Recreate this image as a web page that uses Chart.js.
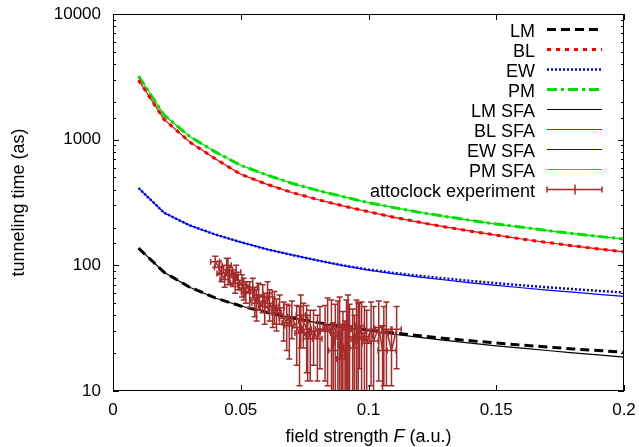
<!DOCTYPE html>
<html>
<head>
<meta charset="utf-8">
<script src="https://cdn.jsdelivr.net/npm/chart.js@4/dist/chart.umd.min.js"></script>
<style>
  html, body { margin: 0; padding: 0; background: #fff; }
  canvas { display: block; }
</style>
</head>
<body>
<canvas id="myChart" width="639" height="447"></canvas>
<script>
// field strength F (a.u.) for the model curves
var fields = [0.01, 0.02, 0.03, 0.04, 0.05, 0.06, 0.07, 0.08, 0.09, 0.10,
              0.11, 0.12, 0.13, 0.14, 0.15, 0.16, 0.17, 0.18, 0.19, 0.20];

// tunneling times (as)
var lmValues    = [137, 88, 67, 55, 47.5, 42.3, 38.3, 35.1, 32.6, 30.6, 28.9, 27.5, 26.2, 25.1, 24.1, 23.2, 22.4, 21.6, 21.0, 20.3];
var blValues    = [2980, 1450, 960, 705, 530, 443, 380, 334, 297, 267, 241, 220, 202, 187, 174, 162, 152, 143, 135, 128];
var ewValues    = [412, 262, 208, 176, 153, 134.5, 121, 109.5, 100, 92.5, 87, 82.5, 78.6, 75.2, 72.1, 69.4, 66.9, 64.7, 62.6, 60.7];
var pmValues    = [3200, 1570, 1060, 800, 625, 525, 450, 395, 352, 315, 288, 264, 245, 228, 213, 201, 189, 179, 170, 162];
var lmSfaValues = [137, 88, 67, 55, 47.5, 42.3, 38.2, 34.9, 32.3, 30.1, 28.3, 26.7, 25.3, 24.0, 22.9, 21.9, 21.0, 20.1, 19.4, 18.6];
var blSfaValues = [2980, 1450, 960, 705, 530, 443, 380, 334, 297, 267, 241, 220, 202, 187, 174, 162, 152, 143, 135, 128];
var ewSfaValues = [412, 262, 208, 176, 153, 134.5, 121, 109.5, 99.4, 91.5, 85.5, 80.7, 76.4, 72.6, 69.3, 66.3, 63.6, 61.1, 58.8, 56.6];
var pmSfaValues = [3200, 1570, 1060, 800, 625, 525, 450, 395, 352, 315, 288, 264, 245, 228, 213, 201, 189, 179, 170, 162];

// attoclock experiment: F, time, and their errors
var attoField    = [0.0400, 0.0415, 0.0425, 0.0437, 0.0445, 0.0450, 0.0457, 0.0470, 0.0478, 0.0482,
                    0.0490, 0.0505, 0.0512, 0.0520, 0.0535, 0.0547, 0.0555, 0.0562, 0.0570, 0.0586,
                    0.0594, 0.0605, 0.0613, 0.0625, 0.0632, 0.0640, 0.0652, 0.0668, 0.0680, 0.0690,
                    0.0700, 0.0719, 0.0730, 0.0735, 0.0745, 0.0758, 0.0762, 0.0772, 0.0785, 0.0800,
                    0.0810, 0.0830, 0.0840, 0.0855, 0.0862, 0.0870, 0.0880, 0.0887, 0.0894, 0.0900,
                    0.0908, 0.0914, 0.0920, 0.0926, 0.0938, 0.0945, 0.0953, 0.0960, 0.0965, 0.0973,
                    0.0984, 0.0993, 0.1010, 0.1020, 0.1040, 0.1055, 0.1060, 0.1070, 0.1090, 0.1110];
var attoTime     = [107, 96, 86, 77, 100, 92, 84, 80, 72, 88,
                    76, 70, 66, 62, 60, 67, 53, 50, 58, 56,
                    47, 60, 50, 44, 48, 42, 46, 38, 35, 33,
                    39, 32, 29, 40, 36, 31, 26, 28, 30, 26,
                    31, 30, 33, 31, 21, 29, 26, 32, 18, 23,
                    19, 31, 33, 27, 25, 22, 31, 26, 33, 29,
                    27, 24, 31, 25, 32, 21, 29, 31, 21, 31];
var attoFieldErr = [0.0018, 0.0018, 0.0018, 0.0018, 0.0018, 0.0018, 0.0018, 0.0018, 0.0018, 0.0018,
                    0.0018, 0.0018, 0.0018, 0.0018, 0.0018, 0.0018, 0.0018, 0.0018, 0.0018, 0.0018,
                    0.0018, 0.0018, 0.0018, 0.0018, 0.0018, 0.0018, 0.0018, 0.0018, 0.0018, 0.0018,
                    0.0018, 0.0018, 0.0018, 0.0018, 0.0018, 0.0018, 0.0018, 0.0018, 0.0018, 0.0018,
                    0.0018, 0.0018, 0.0018, 0.0018, 0.0018, 0.0018, 0.0018, 0.0018, 0.0018, 0.0018,
                    0.0018, 0.0018, 0.0018, 0.0018, 0.0018, 0.0018, 0.0018, 0.0018, 0.0018, 0.0018,
                    0.0018, 0.0018, 0.0018, 0.0018, 0.0018, 0.0018, 0.0018, 0.0018, 0.0018, 0.0018];
var attoTimeErr  = [11, 12, 12, 10, 14, 22, 14, 12, 12, 12,
                    12, 14, 13, 12, 14, 12, 14, 14, 14, 14,
                    13, 14, 14, 12, 14, 12, 12, 13, 14, 15,
                    13, 16, 18, 18, 14, 17, 14, 16, 14, 14,
                    16, 18, 22, 22, 14, 20, 26, 24, 16, 20,
                    17, 22, 25, 22, 20, 18, 22, 24, 18, 22,
                    20, 20, 20, 22, 20, 12, 18, 20, 10, 16];

var xTicks = [0, 0.05, 0.1, 0.15, 0.2];
var brown = '#a52a2a';
var fontFamily = '"Liberation Sans", Arial, sans-serif';

function points(xs, ys) {
    var out = [];
    for (var i = 0; i < xs.length; i++) {
        out.push({x: xs[i], y: ys[i]});
    }
    return out;
}

function curve(label, values, color, width, dash, order) {
    return {
        label: label,
        data: points(fields, values),
        borderColor: color,
        borderWidth: width,
        borderDash: dash,
        borderCapStyle: 'butt',
        pointRadius: 0,
        fill: false,
        tension: 0,
        order: order
    };
}

// frame and inward ticks on all four sides, plus the x axis title
var framePlugin = {
    id: 'frame',
    afterDraw: function(chart) {
        var ctx = chart.ctx, a = chart.chartArea;
        var xs = chart.scales.x, ys = chart.scales.y;
        ctx.save();
        ctx.strokeStyle = '#000';
        ctx.lineWidth = 1;
        ctx.setLineDash([]);
        ctx.strokeRect(a.left + 0.5, a.top + 0.5, a.width - 1, a.height - 1);
        ctx.beginPath();
        xs.ticks.forEach(function(t) {
            var px = Math.round(xs.getPixelForValue(t.value)) + 0.5;
            ctx.moveTo(px, a.bottom); ctx.lineTo(px, a.bottom - 6);
            ctx.moveTo(px, a.top); ctx.lineTo(px, a.top + 6);
        });
        ys.ticks.forEach(function(t) {
            var lg = Math.log10(t.value);
            var len = Math.abs(lg - Math.round(lg)) < 1e-9 ? 6 : 3;
            var py = Math.round(ys.getPixelForValue(t.value)) + 0.5;
            ctx.moveTo(a.left, py); ctx.lineTo(a.left + len, py);
            ctx.moveTo(a.right, py); ctx.lineTo(a.right - len, py);
        });
        ctx.stroke();

        var y = 441.5;
        var p1 = 'field strength ', p2 = 'F', p3 = ' (a.u.)';
        ctx.fillStyle = '#000';
        ctx.textBaseline = 'alphabetic';
        ctx.textAlign = 'left';
        ctx.font = '18px ' + fontFamily;
        var w1 = ctx.measureText(p1).width, w3 = ctx.measureText(p3).width;
        ctx.font = 'italic 18px ' + fontFamily;
        var w2 = ctx.measureText(p2).width;
        var x = (a.left + a.right) / 2 - (w1 + w2 + w3) / 2;
        ctx.font = '18px ' + fontFamily;
        ctx.fillText(p1, x, y);
        ctx.font = 'italic 18px ' + fontFamily;
        ctx.fillText(p2, x + w1, y);
        ctx.font = '18px ' + fontFamily;
        ctx.fillText(p3, x + w1 + w2, y);
        ctx.restore();
    }
};

// x and y error bars for the attoclock data
var errorBarPlugin = {
    id: 'errorBars',
    afterDatasetsDraw: function(chart) {
        var ctx = chart.ctx, a = chart.chartArea;
        var xs = chart.scales.x, ys = chart.scales.y;
        ctx.save();
        ctx.beginPath();
        ctx.rect(a.left, a.top, a.width, a.height);
        ctx.clip();
        ctx.strokeStyle = brown;
        ctx.lineWidth = 1.5;
        ctx.setLineDash([]);
        ctx.beginPath();
        for (var i = 0; i < attoField.length; i++) {
            var px = xs.getPixelForValue(attoField[i]);
            var py = ys.getPixelForValue(attoTime[i]);
            var x0 = xs.getPixelForValue(attoField[i] - attoFieldErr[i]);
            var x1 = xs.getPixelForValue(attoField[i] + attoFieldErr[i]);
            var yTop = ys.getPixelForValue(attoTime[i] + attoTimeErr[i]);
            var lo = attoTime[i] - attoTimeErr[i];
            var yBot = lo > 0 ? ys.getPixelForValue(lo) : a.bottom + 20;
            ctx.moveTo(x0, py); ctx.lineTo(x1, py);
            ctx.moveTo(x0, py - 3); ctx.lineTo(x0, py + 3);
            ctx.moveTo(x1, py - 3); ctx.lineTo(x1, py + 3);
            ctx.moveTo(px, yTop); ctx.lineTo(px, yBot);
            ctx.moveTo(px - 3, yTop); ctx.lineTo(px + 3, yTop);
            ctx.moveTo(px - 3, yBot); ctx.lineTo(px + 3, yBot);
        }
        ctx.stroke();
        ctx.restore();
    }
};

// gnuplot style key: text on the left, sample on the right
var keyPlugin = {
    id: 'key',
    afterDraw: function(chart) {
        var ctx = chart.ctx;
        var sets = chart.data.datasets;
        ctx.save();
        ctx.font = '18px ' + fontFamily;
        ctx.fillStyle = '#000';
        ctx.textAlign = 'right';
        ctx.textBaseline = 'alphabetic';
        for (var i = 0; i < sets.length; i++) {
            var ds = sets[i];
            var y = 29.5 + 20 * i;
            ctx.fillText(ds.label, 535, y + 7);
            ctx.strokeStyle = ds.borderColor;
            ctx.lineWidth = ds.borderWidth;
            ctx.lineCap = 'butt';
            ctx.setLineDash(ds.borderDash || []);
            ctx.beginPath();
            ctx.moveTo(547, y); ctx.lineTo(602, y);
            ctx.stroke();
            if (ds.errorKey) {
                ctx.setLineDash([]);
                ctx.beginPath();
                ctx.moveTo(547, y - 3); ctx.lineTo(547, y + 3);
                ctx.moveTo(602, y - 3); ctx.lineTo(602, y + 3);
                ctx.moveTo(575, y - 5); ctx.lineTo(575, y + 5);
                ctx.stroke();
            }
        }
        ctx.restore();
    }
};

var atto = {
    label: 'attoclock experiment',
    data: points(attoField, attoTime),
    borderColor: brown,
    borderWidth: 1.5,
    borderDash: [],
    pointRadius: 0,
    fill: false,
    tension: 0,
    order: 0,
    errorKey: true
};

var ctx = document.getElementById('myChart').getContext('2d');
var chart = new Chart(ctx, {
    type: 'line',
    data: {
        datasets: [
            curve('LM', lmValues, '#000000', 3, [9, 5], 3),
            curve('BL', blValues, '#ff0000', 3, [4, 5], 3),
            curve('EW', ewValues, '#0000ff', 2.5, [2, 2], 3),
            curve('PM', pmValues, '#00e000', 3, [10, 4, 3, 4], 3),
            curve('LM SFA', lmSfaValues, '#000000', 1.2, [], 2),
            curve('BL SFA', blSfaValues, '#ff0000', 1.2, [], 2),
            curve('EW SFA', ewSfaValues, '#0000ff', 1.2, [], 2),
            curve('PM SFA', pmSfaValues, '#00e000', 1.2, [], 2),
            atto
        ]
    },
    options: {
        responsive: false,
        animation: false,
        devicePixelRatio: 1,
        layout: { padding: { left: 0, right: 15, top: 14, bottom: 0 } },
        plugins: {
            legend: { display: false },
            tooltip: { enabled: false }
        },
        scales: {
            x: {
                type: 'linear',
                min: 0,
                max: 0.2,
                grid: { display: false, drawTicks: false },
                border: { display: false },
                afterBuildTicks: function(scale) {
                    scale.ticks = xTicks.map(function(v) { return {value: v}; });
                },
                afterFit: function(scale) {
                    scale.height = 56;
                    scale.paddingLeft = 0;
                    scale.paddingRight = 0;
                },
                ticks: {
                    padding: 9,
                    color: '#000',
                    font: { family: fontFamily, size: 17 },
                    maxRotation: 0,
                    callback: function(v) { return String(+v.toFixed(2)); }
                }
            },
            y: {
                type: 'logarithmic',
                min: 10,
                max: 10000,
                grid: { display: false, drawTicks: false },
                border: { display: false },
                afterFit: function(scale) {
                    scale.width = 113;
                    scale.paddingTop = 0;
                    scale.paddingBottom = 0;
                },
                title: {
                    display: true,
                    text: 'tunneling time (as)',
                    color: '#000',
                    padding: { top: 8, bottom: 0 },
                    font: { family: fontFamily, size: 18 }
                },
                ticks: {
                    padding: 12,
                    color: '#000',
                    autoSkip: false,
                    font: { family: fontFamily, size: 17 },
                    callback: function(v) {
                        var lg = Math.log10(v);
                        return Math.abs(lg - Math.round(lg)) < 1e-9 ? String(v) : '';
                    }
                }
            }
        }
    },
    plugins: [errorBarPlugin, framePlugin, keyPlugin]
});
</script>
</body>
</html>
